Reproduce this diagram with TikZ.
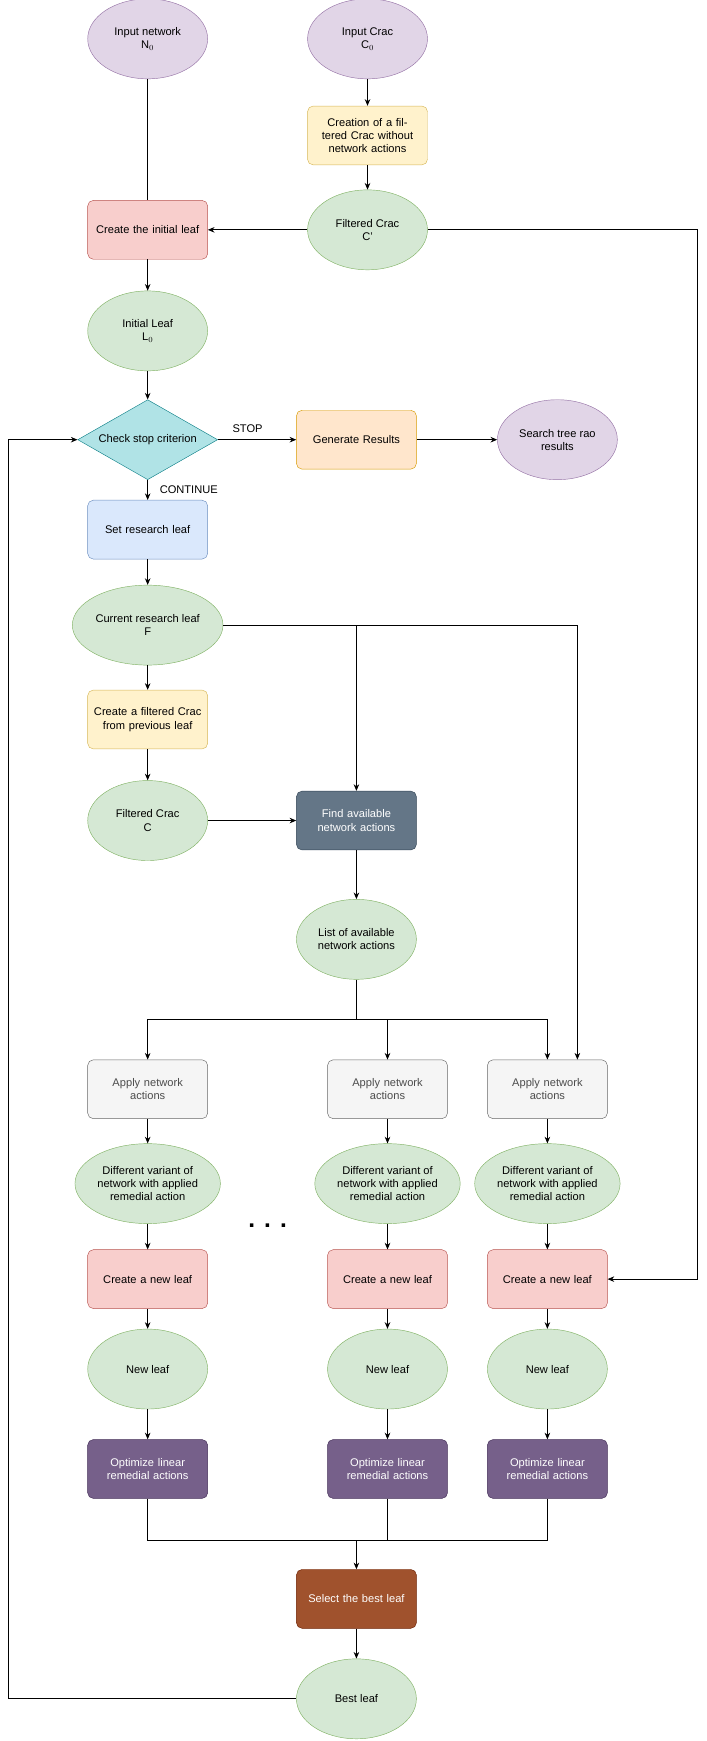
\documentclass[tikz,border=0pt]{standalone}
\usepackage{fontspec}
\setmainfont{Liberation Sans}
\usetikzlibrary{shapes.geometric,arrows.meta}
\definecolor{pf}{HTML}{E1D5E7}\definecolor{pd}{HTML}{9673A6}
\definecolor{yf}{HTML}{FFF2CC}\definecolor{yd}{HTML}{D6B656}
\definecolor{gf}{HTML}{D5E8D4}\definecolor{gd}{HTML}{82B366}
\definecolor{rf}{HTML}{F8CECC}\definecolor{rd}{HTML}{B85450}
\definecolor{tf}{HTML}{B0E3E6}\definecolor{td}{HTML}{0E8088}
\definecolor{of}{HTML}{FFE6CC}\definecolor{od}{HTML}{D79B00}
\definecolor{bf}{HTML}{DAE8FC}\definecolor{bd}{HTML}{6C8EBF}
\definecolor{sf}{HTML}{647687}\definecolor{sd}{HTML}{314354}
\definecolor{wf}{HTML}{F5F5F5}\definecolor{wd}{HTML}{666666}
\definecolor{vf}{HTML}{76608A}\definecolor{vd}{HTML}{432D57}
\definecolor{nf}{HTML}{A0522D}\definecolor{nd}{HTML}{6D1F00}
\begin{document}
\begin{tikzpicture}[x=1pt,y=-1pt,
  every node/.style={font=\fontsize{10}{12}\selectfont,align=center,inner sep=1pt},
  ell/.style={ellipse,draw,minimum width=108pt,minimum height=72pt},
  box/.style={rectangle,rounded corners=5pt,draw,minimum width=108pt,minimum height=53pt,text width=106pt},
  pu/.style={ell,fill=pf,draw=pd},
  gr/.style={ell,fill=gf,draw=gd},
  ar/.style={-{Stealth[length=6pt,width=5pt]},line width=0.7pt},
  ln/.style={line width=0.7pt}]
\useasboundingbox (0,0) rectangle (636,1568);
\node[pu] (in) at (133,35) {Input network\\N$_0$};
\node[pu] (ic) at (331,35) {Input Crac\\C$_0$};
\node[box,fill=yf,draw=yd] (cr) at (331,122) {Creation of a filtered Crac without network actions};
\node[gr] (fc) at (331,207) {Filtered Crac\\C'};
\node[box,fill=rf,draw=rd] (cil) at (133,207) {Create the initial leaf};
\node[gr] (il) at (133,298) {Initial Leaf\\L$_0$};
\node[diamond,draw=td,fill=tf,minimum width=126pt,minimum height=72pt,aspect=1.75,inner sep=0pt] (dm) at (133,396) {Check stop criterion};
\node[box,fill=of,draw=od] (gen) at (321,396) {Generate Results};
\node[pu] (srr) at (502,396) {Search tree rao\\results};
\node at (223,386) {STOP};
\node at (170,441) {CONTINUE};
\node[box,fill=bf,draw=bd] (srl) at (133,477) {Set research leaf};
\node[gr] (cur) at (133,563) {Current research leaf\\F};
\node[box,fill=yf,draw=yd] (cfp) at (133,648) {Create a filtered Crac from previous leaf};
\node[gr] (fcc) at (133,739) {Filtered Crac\\C};
\node[box,fill=sf,draw=sd,text=white] (find) at (321,739) {Find available network actions};
\node[gr] (list) at (321,846) {List of available\\network actions};
\foreach \i/\x in {1/133,2/349,3/493}{
  \node[box,fill=wf,draw=wd,text=black!70] (ap\i) at (\x,981) {Apply network\\actions};
  \node[gr] (va\i) at (\x,1066) {Different variant of\\network with applied\\remedial action};
  \node[box,fill=rf,draw=rd] (nl\i) at (\x,1152) {Create a new leaf};
  \node[gr] (lf\i) at (\x,1233) {New leaf};
  \node[box,fill=vf,draw=vd,text=white] (op\i) at (\x,1323) {Optimize linear\\remedial actions};
  \draw[ar] (ap\i) -- (va\i);
  \draw[ar] (va\i) -- (nl\i);
  \draw[ar] (nl\i) -- (lf\i);
  \draw[ar] (lf\i) -- (op\i);
}
\node[font=\fontsize{22}{22}\selectfont\bfseries] at (241,1104) {. . .};
\node[box,fill=nf,draw=nd,text=white] (sel) at (321,1440) {Select the best leaf};
\node[gr] (best) at (321,1530) {Best leaf};
% connectors
\draw[ln] (in) -- (cil);
\draw[ar] (ic) -- (cr);
\draw[ar] (cr) -- (fc);
\draw[ar] (fc) -- (cil);
\draw[ar] (cil) -- (il);
\draw[ar] (il) -- (dm);
\draw[ar] (dm) -- (gen);
\draw[ar] (gen) -- (srr);
\draw[ar] (dm) -- (srl);
\draw[ar] (srl) -- (cur);
\draw[ar] (cur) -- (cfp);
\draw[ar] (cfp) -- (fcc);
\draw[ar] (fcc) -- (find);
\draw[ar] (find) -- (list);
\draw[ar] (cur.east) -| (find.north);
\draw[ar] (cur.east) -| ([xshift=27pt]ap3.north);
\coordinate (br) at (321,918);
\draw[ln] (list) -- (br);
\draw[ar] (br) -| (ap1.north);
\draw[ar] (br) -| (ap2.north);
\draw[ar] (br) -| (ap3.north);
\coordinate (mg) at (321,1387);
\draw[ln] (op1.south) |- (mg);
\draw[ln] (op2.south) |- (mg);
\draw[ln] (op3.south) |- (mg);
\draw[ar] (mg) -- (sel);
\draw[ar] (sel) -- (best);
\draw[ar] (best.west) -- (8,1530) |- (dm.west);
\draw[ar] (fc.east) -- (628,207) |- (nl3.east);
\end{tikzpicture}
\end{document}
